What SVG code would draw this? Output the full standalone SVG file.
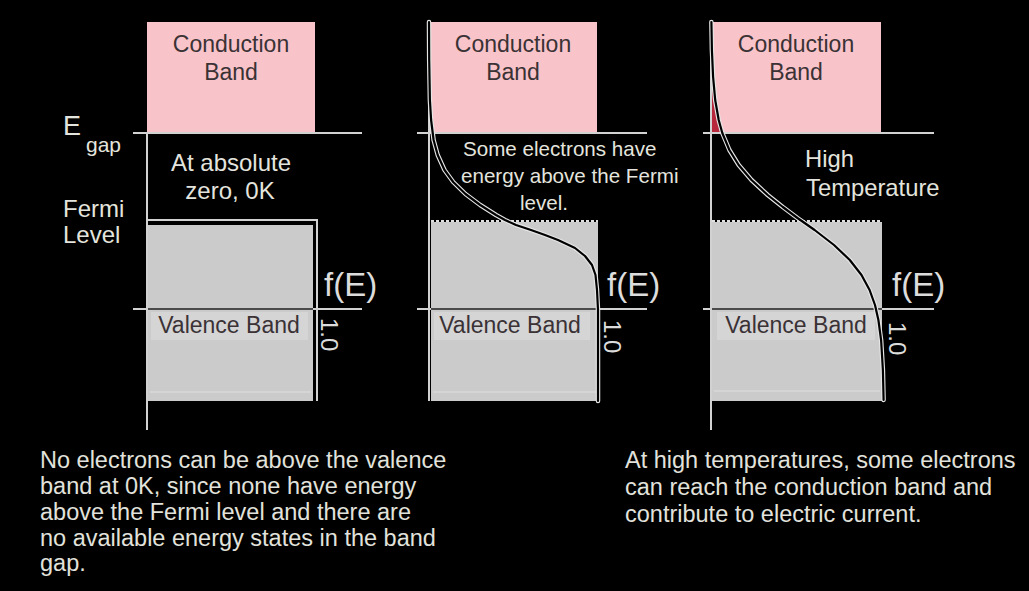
<svg xmlns="http://www.w3.org/2000/svg" width="1029" height="591" viewBox="0 0 1029 591">
<style>
  text{font-family:"Liberation Sans",Arial,Helvetica,sans-serif}
  .cb{fill:#f9c4c9}
  .vb{fill:#cbcbcb}
  .vlab{fill:#d5d5d5}
  .inner{fill:none;stroke:#e0e0e0;stroke-width:1.2}
  .ln{fill:none;stroke:#d2d2d2;stroke-width:2}
  .lnd{fill:none;stroke:#4a4a4a;stroke-width:2}
  .dash{fill:none;stroke:#e0e0e0;stroke-width:2;stroke-dasharray:3 2}
  .halo{fill:none;stroke:#e6e6e6;stroke-width:4.5;stroke-linejoin:round;stroke-linecap:round}
  .crv{fill:none;stroke:#000;stroke-width:2.2;stroke-linejoin:round;stroke-linecap:round}
  .band{font-size:23px;fill:#3a3235;text-anchor:middle}
  .wt{fill:#e4e4de}
  .fe{font-size:33px;fill:#dcdcdc}
  .one{font-size:24px;fill:#dcdcdc}
  .note{font-size:23.5px;fill:#e2e2dc}
</style>
<rect x="0" y="0" width="1029" height="591" fill="#000"/>

<g id="axis-labels">
  <text class="wt" x="63" y="135" font-size="27">E</text>
  <text class="wt" x="86" y="152" font-size="21">gap</text>
  <text class="wt" x="63" y="217" font-size="24">Fermi</text>
  <text class="wt" x="63" y="243" font-size="24">Level</text>
</g>

<g id="panel-absolute-zero">
  <rect class="cb" x="147" y="22" width="168" height="111"/>
  <text class="band" x="231" y="52">Conduction</text>
  <text class="band" x="231" y="80">Band</text>
  <rect class="vb" x="148" y="225" width="165" height="176"/>
  <line class="inner" x1="150" y1="392" x2="311" y2="392"/>
  <rect class="vlab" x="151" y="312" width="157" height="28"/>
  <text class="band" x="229" y="333">Valence Band</text>
  <path class="ln" d="M133,133 H362 M147,133 V430 M147,220 H317 V401 M133,309 H148 M313,309 H362"/>
  <path class="lnd" d="M148,309 H313"/>
  <text class="wt" x="231" y="171" font-size="24" text-anchor="middle">At absolute</text>
  <text class="wt" x="230" y="199" font-size="24" text-anchor="middle">zero, 0K</text>
  <text class="fe" x="324" y="296">f(E)</text>
  <text class="one" x="321" y="318" transform="rotate(90 321 318)">1.0</text>
</g>

<g id="panel-some-electrons">
  <rect class="cb" x="428" y="22" width="169" height="111"/>
  <text class="band" x="513" y="52">Conduction</text>
  <text class="band" x="513" y="80">Band</text>
  <rect class="vb" x="431" y="222" width="167" height="179"/>
  <line class="inner" x1="433" y1="392" x2="596" y2="392"/>
  <rect class="vlab" x="434" y="312" width="156" height="28"/>
  <text class="band" x="510" y="333">Valence Band</text>
  <path class="dash" d="M431,221 H598"/>
  <path class="ln" d="M417,133 H647 M429,22 V401 M417,309 H431 M598,309 H647"/>
  <path class="lnd" d="M431,309 H598"/>
  <g id="fermi-curve-mid">
    <path class="halo" d="M429,22 L429.2,60 L429.9,100 L431.1,120 L433.6,140 L437.7,155 L444.5,170 L453.2,182 L465.5,194 L480.2,205 L496,215 L505,220 L516,225 L531,230 L545,235 L558,240 L575,248 L585,256 L592,265 L595.5,275 L597,290 L598,310 L598,401"/>
    <path class="crv" d="M429,22 L429.2,60 L429.9,100 L431.1,120 L433.6,140 L437.7,155 L444.5,170 L453.2,182 L465.5,194 L480.2,205 L496,215 L505,220 L516,225 L531,230 L545,235 L558,240 L575,248 L585,256 L592,265 L595.5,275 L597,290 L598,310 L598,401"/>
  </g>
  <text class="wt" x="463" y="156" font-size="20.6">Some electrons have</text>
  <text class="wt" x="461" y="183" font-size="20.6">energy above the Fermi</text>
  <text class="wt" x="520" y="210" font-size="20.6">level.</text>
  <text class="fe" x="607" y="296">f(E)</text>
  <text class="one" x="604" y="320" transform="rotate(90 604 320)">1.0</text>
</g>

<g id="panel-high-temperature">
  <rect class="cb" x="711" y="22" width="170" height="111"/>
  <text class="band" x="796" y="52">Conduction</text>
  <text class="band" x="796" y="80">Band</text>
  <rect class="vb" x="712" y="222" width="170" height="179"/>
  <line class="inner" x1="714" y1="391" x2="880" y2="391"/>
  <rect class="vlab" x="717" y="312" width="158" height="28"/>
  <text class="band" x="796" y="333">Valence Band</text>
  <path class="dash" d="M712,221 H882"/>
  <path d="M711,50 L711.9,50 L713.1,77 L715.2,100 L718.7,120 L722.3,133 L711,133 Z" fill="#b8283c"/>
  <path class="ln" d="M703,133 H934 M711,22 V430 M703,309 H712 M882,309 H934"/>
  <path class="lnd" d="M712,309 H882"/>
  <g id="fermi-curve-high">
    <path class="halo" d="M711.4,22 L711.9,50 L713.1,77 L715.2,100 L718.7,120 L722.3,133 L729.4,150 L738.7,165 L751.5,180 L767.7,195 L782.8,207 L797.5,218 L814.6,230 L834,245 L849.8,260 L861.5,275 L869.6,290 L875,305 L878.4,320 L881.1,340 L882.9,370 L883.6,400"/>
    <path class="crv" d="M711.4,22 L711.9,50 L713.1,77 L715.2,100 L718.7,120 L722.3,133 L729.4,150 L738.7,165 L751.5,180 L767.7,195 L782.8,207 L797.5,218 L814.6,230 L834,245 L849.8,260 L861.5,275 L869.6,290 L875,305 L878.4,320 L881.1,340 L882.9,370 L883.6,400"/>
  </g>
  <text class="wt" x="805" y="167" font-size="23.8">High</text>
  <text class="wt" x="806" y="196" font-size="23.8">Temperature</text>
  <text class="fe" x="892" y="296">f(E)</text>
  <text class="one" x="889" y="322" transform="rotate(90 889 322)">1.0</text>
</g>

<g id="note-zero">
  <text class="note" x="40" y="468">No electrons can be above the valence</text>
  <text class="note" x="40" y="494">band at 0K, since none have energy</text>
  <text class="note" x="40" y="520">above the Fermi level and there are</text>
  <text class="note" x="40" y="546">no available energy states in the band</text>
  <text class="note" x="40" y="571">gap.</text>
</g>

<g id="note-high">
  <text class="note" x="625" y="468">At high temperatures, some electrons</text>
  <text class="note" x="625" y="495">can reach the conduction band and</text>
  <text class="note" x="625" y="522">contribute to electric current.</text>
</g>

<g id="connectors"></g>
</svg>
